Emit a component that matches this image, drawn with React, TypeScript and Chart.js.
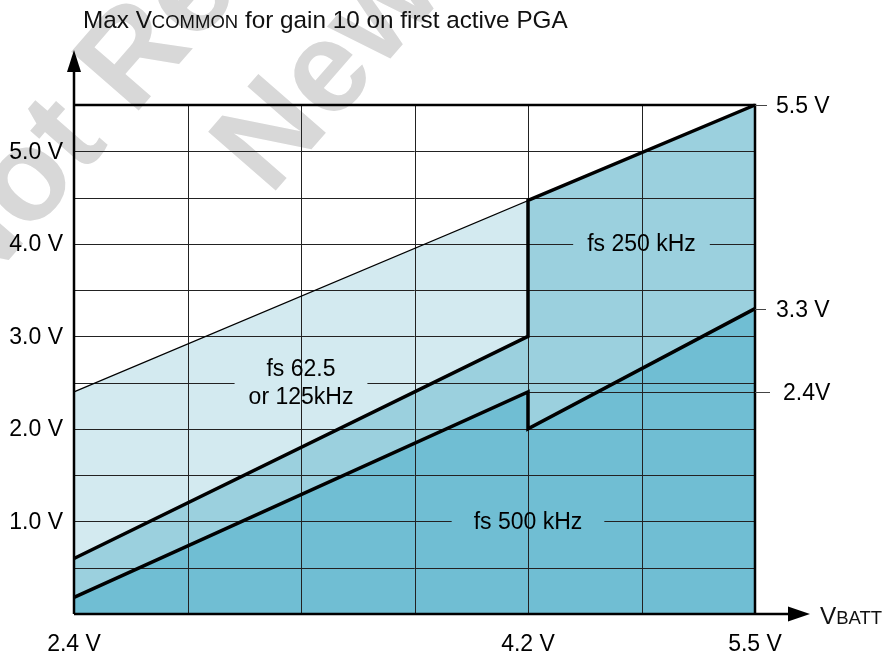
import React, { useEffect, useRef } from 'react';
import { Chart, registerables } from 'chart.js';

Chart.register(...registerables);

// ---- data -------------------------------------------------------------
// x axis is schematic: 6 equal grid columns, VBATT labels at column 0, 4, 6
const VBATT_POS = [0, 4, 6];
const VBATT_LABELS = ['2.4 V', '4.2 V', '5.5 V'];

const Y_TICKS = [1, 2, 3, 4, 5];
const Y_TICK_LABELS = ['1.0 V', '2.0 V', '3.0 V', '4.0 V', '5.0 V'];

const GRID_X = [1, 2, 3, 4, 5];
const GRID_Y = [0.5, 1, 1.5, 2, 2.5, 3, 3.5, 4, 4.5, 5];

// upper limit line (VCOMMON = VBATT)
const LIMIT_X = [0, 6];
const LIMIT_Y = [2.4, 5.5];
// max VCOMMON boundary for fs 250 kHz
const FS250_X = [0, 4, 4, 6];
const FS250_Y = [0.6, 3.0, 4.47, 5.5];
// max VCOMMON boundary for fs 500 kHz
const FS500_X = [0, 4, 4, 6];
const FS500_Y = [0.18, 2.4, 2.0, 3.3];

const RIGHT_VALUES = [5.5, 3.3, 2.4];
const RIGHT_LABELS = ['5.5 V', '3.3 V', '2.4V'];

const REGION_LINES = [['fs 250 kHz'], ['fs 62.5', 'or 125kHz'], ['fs 500 kHz']];
const REGION_X = [5, 2, 4];
const REGION_Y = [4, 2.5, 1];
const REGION_PAD = [14, 14, 22];

const WATERMARK_LINES = ['Not Recommended for', 'New Designs'];

const LIGHT = '#d3eaf0';
const MEDIUM = '#9bd0de';
const DARK = '#70bed3';
const FONT = '"Liberation Sans", Arial, Helvetica, sans-serif';

const pts = (xs: number[], ys: number[]) => xs.map((x, i) => ({ x, y: ys[i] }));

const overlay = {
  id: 'overlay',
  beforeDraw(chart: any) {
    const ctx = chart.ctx;
    ctx.save();
    ctx.fillStyle = '#ffffff';
    ctx.fillRect(0, 0, chart.width, chart.height);
    // watermark
    ctx.fillStyle = '#d8d8d8';
    ctx.font = `bold 130px ${FONT}`;
    ctx.textBaseline = 'alphabetic';
    ctx.textAlign = 'left';
    const ang = -49 * Math.PI / 180;
    ctx.save();
    ctx.translate(133, 117);
    ctx.rotate(ang);
    const w = ctx.measureText('Not ').width;
    ctx.fillText(WATERMARK_LINES[0], -w, 0);
    ctx.restore();
    ctx.save();
    ctx.translate(270, 197);
    ctx.rotate(ang);
    ctx.fillText(WATERMARK_LINES[1], 0, 0);
    ctx.restore();
    ctx.restore();
  },
  beforeDatasetsDraw(chart: any) {
    const ctx = chart.ctx;
    const xs = chart.scales.x;
    const ys = chart.scales.y;
    const { left, right, top, bottom } = chart.chartArea;
    ctx.save();
    ctx.strokeStyle = '#222';
    ctx.lineWidth = 1;
    ctx.font = `23px ${FONT}`;
    for (const gx of GRID_X) {
      const px = Math.round(xs.getPixelForValue(gx)) + 0.5;
      ctx.beginPath();
      ctx.moveTo(px, top);
      ctx.lineTo(px, bottom);
      ctx.stroke();
    }
    for (const gy of GRID_Y) {
      const py = Math.round(ys.getPixelForValue(gy)) + 0.5;
      const gaps: number[][] = [];
      REGION_Y.forEach((ry, i) => {
        if (ry === gy) {
          const cx = xs.getPixelForValue(REGION_X[i]);
          const tw = Math.max(...REGION_LINES[i].map((t) => ctx.measureText(t).width));
          gaps.push([cx - tw / 2 - REGION_PAD[i], cx + tw / 2 + REGION_PAD[i]]);
        }
      });
      let start = left;
      gaps.sort((a, b) => a[0] - b[0]);
      for (const g of gaps) {
        ctx.beginPath();
        ctx.moveTo(start, py);
        ctx.lineTo(g[0], py);
        ctx.stroke();
        start = g[1];
      }
      ctx.beginPath();
      ctx.moveTo(start, py);
      ctx.lineTo(right, py);
      ctx.stroke();
    }
    // 2.4 V reference line from 4.2 V to the right label
    const p24 = Math.round(ys.getPixelForValue(2.4)) + 0.5;
    ctx.beginPath();
    ctx.moveTo(xs.getPixelForValue(4), p24);
    ctx.lineTo(right, p24);
    ctx.stroke();
    ctx.restore();
  },
  afterDatasetsDraw(chart: any) {
    const ctx = chart.ctx;
    const xs = chart.scales.x;
    const ys = chart.scales.y;
    const { left, right, top, bottom } = chart.chartArea;
    ctx.save();
    ctx.strokeStyle = '#000';
    ctx.fillStyle = '#000';
    // frame: top and right borders
    ctx.lineWidth = 2.5;
    ctx.beginPath();
    ctx.moveTo(left, top);
    ctx.lineTo(right, top);
    ctx.lineTo(right, bottom);
    ctx.stroke();
    // axes with arrows
    ctx.lineWidth = 2.5;
    ctx.beginPath();
    ctx.moveTo(left, bottom);
    ctx.lineTo(left, 66);
    ctx.moveTo(left, bottom);
    ctx.lineTo(792, bottom);
    ctx.stroke();
    ctx.beginPath();
    ctx.moveTo(left, 50);
    ctx.lineTo(left - 7, 72);
    ctx.lineTo(left + 7, 72);
    ctx.closePath();
    ctx.fill();
    ctx.beginPath();
    ctx.moveTo(810, bottom);
    ctx.lineTo(788, bottom - 7.5);
    ctx.lineTo(788, bottom + 7.5);
    ctx.closePath();
    ctx.fill();

    // right leader lines and labels
    ctx.strokeStyle = '#444';
    ctx.lineWidth = 1;
    const leaderEnd = [767, 766, 770];
    const labelStart = [776, 776, 783];
    ctx.font = `23px ${FONT}`;
    ctx.textBaseline = 'middle';
    ctx.textAlign = 'left';
    RIGHT_VALUES.forEach((v, i) => {
      const py = Math.round(ys.getPixelForValue(v)) + 0.5;
      ctx.beginPath();
      ctx.moveTo(right, py);
      ctx.lineTo(leaderEnd[i], py);
      ctx.stroke();
      ctx.fillText(RIGHT_LABELS[i], labelStart[i], py + 1);
    });

    // y tick labels
    ctx.textAlign = 'right';
    Y_TICKS.forEach((v, i) => {
      ctx.fillText(Y_TICK_LABELS[i], 63, ys.getPixelForValue(v) + 1);
    });

    // x tick labels
    ctx.textAlign = 'center';
    ctx.textBaseline = 'alphabetic';
    VBATT_POS.forEach((v, i) => {
      ctx.fillText(VBATT_LABELS[i], xs.getPixelForValue(v), 651);
    });

    // region labels
    ctx.textBaseline = 'middle';
    REGION_LINES.forEach((lines, i) => {
      const cx = xs.getPixelForValue(REGION_X[i]);
      const cy = ys.getPixelForValue(REGION_Y[i]);
      const lh = 28;
      lines.forEach((t, j) => {
        const off = (j - (lines.length - 1) / 2) * lh;
        ctx.fillText(t, cx, cy + off + 1);
      });
    });

    // axis titles with small caps
    ctx.textAlign = 'left';
    ctx.textBaseline = 'alphabetic';
    const big = `24.3px ${FONT}`;
    const small = `18.5px ${FONT}`;
    const drawRun = (parts: [string, string][], x: number, y: number) => {
      let cx = x;
      for (const [txt, f] of parts) {
        ctx.font = f;
        ctx.fillText(txt, cx, y);
        cx += ctx.measureText(txt).width;
      }
    };
    ctx.fillStyle = '#111';
    drawRun([['Max V', big], ['COMMON', small], [' for gain 10 on first active PGA', big]], 83, 28);
    drawRun([['V', big], ['BATT', small]], 820, 624);
    ctx.restore();
  },
};

export default function App() {
  const ref = useRef<HTMLCanvasElement>(null);
  useEffect(() => {
    const canvas = ref.current;
    if (!canvas) return;
    const chart = new Chart(canvas, {
      type: 'line',
      data: {
        datasets: [
          {
            label: 'fs 500 kHz',
            data: pts(FS500_X, FS500_Y),
            borderColor: '#000',
            borderWidth: 3.5,
            backgroundColor: DARK,
            fill: 'origin',
            pointRadius: 0,
            tension: 0,
            clip: false,
          },
          {
            label: 'fs 250 kHz',
            data: pts(FS250_X, FS250_Y),
            borderColor: '#000',
            borderWidth: 3.5,
            backgroundColor: MEDIUM,
            fill: 'origin',
            pointRadius: 0,
            tension: 0,
            clip: false,
          },
          {
            label: 'fs 62.5 or 125 kHz',
            data: pts(LIMIT_X, LIMIT_Y),
            borderColor: '#000',
            borderWidth: 1.2,
            backgroundColor: LIGHT,
            fill: 'origin',
            pointRadius: 0,
            tension: 0,
            clip: false,
          },
        ],
      } as any,
      options: {
        responsive: false,
        animation: false,
        events: [],
        layout: { padding: { left: 74, right: 133, top: 105, bottom: 42 } },
        scales: {
          x: { type: 'linear', min: 0, max: 6, display: false },
          y: { type: 'linear', min: 0, max: 5.5, display: false },
        },
        plugins: {
          legend: { display: false },
          tooltip: { enabled: false },
          filler: { drawTime: 'beforeDatasetsDraw', propagate: false },
        },
      } as any,
      plugins: [overlay],
    });
    return () => chart.destroy();
  }, []);
  return (
    <div style={{ position: 'fixed', left: 0, top: 0, width: 888, height: 656, background: '#fff' }}>
      <canvas ref={ref} width={888} height={656} style={{ display: 'block', width: 888, height: 656 }} />
    </div>
  );
}
